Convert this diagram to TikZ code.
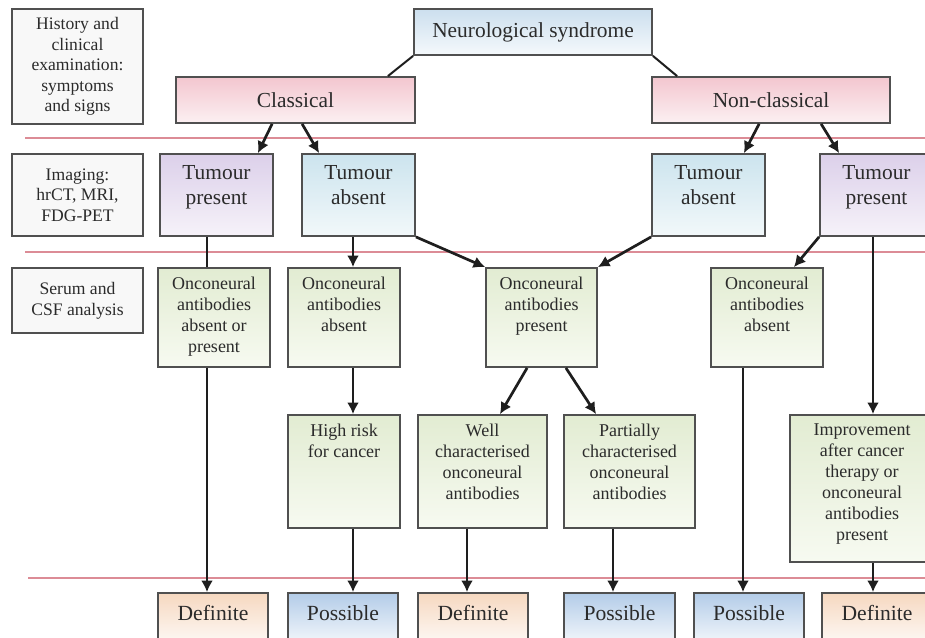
\documentclass[tikz,border=0pt]{standalone}
\usepackage{fontspec}
\setmainfont{Liberation Serif}
\usetikzlibrary{arrows.meta}
\definecolor{bord}{HTML}{505050}
\definecolor{txtc}{HTML}{2B2B2B}
\definecolor{arrc}{HTML}{1E1E1E}
\definecolor{redl}{HTML}{DC8C96}
\definecolor{lblfill}{HTML}{F8F8F8}
\definecolor{neuT}{HTML}{CCDFEE}
\definecolor{neuB}{HTML}{F5F9FC}
\definecolor{pinkT}{HTML}{F3C6CF}
\definecolor{pinkB}{HTML}{FCF0F2}
\definecolor{tpT}{HTML}{DCD0EA}
\definecolor{tpB}{HTML}{F6F2F9}
\definecolor{taT}{HTML}{CCE4EE}
\definecolor{taB}{HTML}{F2F8FA}
\definecolor{ocT}{HTML}{E2ECD2}
\definecolor{ocB}{HTML}{F7FAF1}
\definecolor{posT}{HTML}{B3CCE8}
\definecolor{defT}{HTML}{F6D8C0}
\tikzset{
  every node/.style={text=txtc, font=\fontsize{10.7}{12.5}\selectfont},
  box/.style={draw=bord, line width=0.9pt, inner sep=0pt, align=center},
  sz/.style 2 args={minimum width=#1*0.5pt, minimum height=#2*0.5pt},
  lbl/.style={box, fill=lblfill, font=\fontsize{8.8}{10.3}\selectfont},
  tt/.style={label={[anchor=north, yshift=-4.6pt, inner sep=0pt, align=center, text=txtc, font=\fontsize{9}{10.5}\selectfont]north:{#1}}},
  tb/.style={label={[anchor=north, yshift=-6pt, inner sep=0pt, align=center, text=txtc, font=\fontsize{10.7}{12.5}\selectfont]north:{#1}}},
  tr/.style={label={[anchor=north, yshift=-6.3pt, inner sep=0pt, align=center, text=txtc, font=\fontsize{10.8}{12.5}\selectfont]north:{#1}}},
  fneu/.style={box, top color=neuT, bottom color=neuB},
  fpink/.style={box, top color=pinkT, bottom color=pinkB},
  ftp/.style={box, top color=tpT, bottom color=tpB},
  fta/.style={box, top color=taT, bottom color=taB},
  foc/.style={box, top color=ocT, bottom color=ocB},
  fpos/.style={box, top color=posT, bottom color=white},
  fdef/.style={box, top color=defT, bottom color=white},
  sep/.style={draw=redl, line width=1pt},
  ln/.style={draw=arrc, line width=1.35pt},
  thinln/.style={draw=arrc, line width=1pt},
  arr/.style={ln, -{Latex[length=5.8pt,width=6pt]}}
}
\begin{document}
\begin{tikzpicture}[x=0.5pt,y=-0.5pt]
\useasboundingbox (0,0) rectangle (925,637);
\clip (0,0) rectangle (925,637);
\fill[white] (0,0) rectangle (925,637);

% separators
\draw[sep] (25,138) -- (925,138);
\draw[sep] (25,252) -- (925,252);
\draw[sep] (28,578) -- (925,578);

% left labels
\node[lbl, sz={131}{115}] (hist) at (77.5,66.5) {History and\\clinical\\examination:\\symptoms\\and signs};
\node[lbl, sz={131}{82}] (img) at (77.5,195) {Imaging:\\hrCT, MRI,\\FDG-PET};
\node[lbl, sz={131}{65}] (serum) at (77.5,300.5) {Serum and\\CSF analysis};

% top level
\node[fneu, sz={238}{46}] (neuro) at (533,32) {Neurological syndrome};
\node[fpink, sz={239}{46}] (classical) at (295.5,100) {Classical};
\node[fpink, sz={238}{46}] (nonclassical) at (771,100) {Non-classical};

% imaging level
\node[ftp, sz={113}{82}, tb={Tumour\\present}] (tp1) at (216.5,195) {};
\node[fta, sz={113}{82}, tb={Tumour\\absent}] (ta1) at (358.5,195) {};
\node[fta, sz={113}{82}, tb={Tumour\\absent}] (ta2) at (708.5,195) {};
\node[ftp, sz={113}{82}, tb={Tumour\\present}] (tp2) at (876.5,195) {};

% serum level
\node[foc, sz={112}{99}, tt={Onconeural\\antibodies\\absent or\\present}] (oc1) at (214,317.5) {};
\node[foc, sz={112}{99}, tt={Onconeural\\antibodies\\absent}] (oc2) at (344,317.5) {};
\node[foc, sz={111}{99}, tt={Onconeural\\antibodies\\present}] (oc3) at (541.5,317.5) {};
\node[foc, sz={112}{99}, tt={Onconeural\\antibodies\\absent}] (oc4) at (767,317.5) {};

% next level
\node[foc, sz={112}{113}, tt={High risk\\for cancer}] (hr) at (344,471.5) {};
\node[foc, sz={129}{113}, tt={Well\\characterised\\onconeural\\antibodies}] (well) at (482.5,471.5) {};
\node[foc, sz={131}{113}, tt={Partially\\characterised\\onconeural\\antibodies}] (part) at (629.5,471.5) {};
\node[foc, sz={144}{147}, tt={Improvement\\after cancer\\therapy or\\onconeural\\antibodies\\present}] (impr) at (862,488.5) {};

% results
\node[fdef, sz={110}{60}, tr={Definite}] (def1) at (213,623) {};
\node[fpos, sz={110}{60}, tr={Possible}] (pos1) at (343,623) {};
\node[fdef, sz={110}{60}, tr={Definite}] (def2) at (473,623) {};
\node[fpos, sz={111}{60}, tr={Possible}] (pos2) at (619.5,623) {};
\node[fpos, sz={110}{60}, tr={Possible}] (pos3) at (749,623) {};
\node[fdef, sz={110}{60}, tr={Definite}] (def3) at (877,623) {};

% helper coordinates for vertical connectors
\coordinate (x1) at ([xshift=-3.5pt]oc1.north);
\coordinate (x2) at ([xshift=4.5pt]oc2.north);
\coordinate (x3) at ([xshift=5.5pt]impr.north);
\coordinate (x4) at ([xshift=-7.75pt]well.south);
\coordinate (x5) at ([xshift=-8.25pt]part.south);
\coordinate (x6) at ([xshift=-12pt]oc4.south);

% connectors
\draw[thinln] (neuro.south west) -- ([xshift=-14pt]classical.north east);
\draw[thinln] (neuro.south east) -- ([xshift=13pt]nonclassical.north west);
\draw[arr] ([xshift=48.5pt]classical.south west) -- ([xshift=-8pt]tp1.north east);
\draw[arr] ([xshift=63.5pt]classical.south west) -- ([xshift=9pt]ta1.north west);
\draw[arr] ([xshift=54pt]nonclassical.south west) -- ([xshift=-11pt]ta2.north east);
\draw[arr] ([xshift=85pt]nonclassical.south west) -- ([xshift=10pt]tp2.north west);

\draw[ln] (x1 |- tp1.south) -- (x1);
\draw[arr] (x1 |- oc1.south) -- (x1 |- def1.north);
\draw[arr] (x2 |- ta1.south) -- (x2);
\draw[arr] (x2 |- oc2.south) -- (x2 |- hr.north);
\draw[arr] (x2 |- hr.south) -- (x2 |- pos1.north);
\draw[arr] (ta1.south east) -- (oc3.north west);
\draw[arr] (ta2.south west) -- (oc3.north east);
\draw[arr] (tp2.south west) -- ([xshift=-15pt]oc4.north east);
\draw[arr] (x3 |- tp2.south) -- (x3);
\draw[arr] (x3 |- impr.south) -- (x3 |- def3.north);
\draw[arr] ([xshift=21pt]oc3.south west) -- ([xshift=8.75pt]well.north);
\draw[arr] ([xshift=-16pt]oc3.south east) -- ([xshift=16.5pt]part.north west);
\draw[arr] (x4) -- (x4 |- def2.north);
\draw[arr] (x5) -- (x5 |- pos2.north);
\draw[arr] (x6) -- (x6 |- pos3.north);
\end{tikzpicture}
\end{document}
